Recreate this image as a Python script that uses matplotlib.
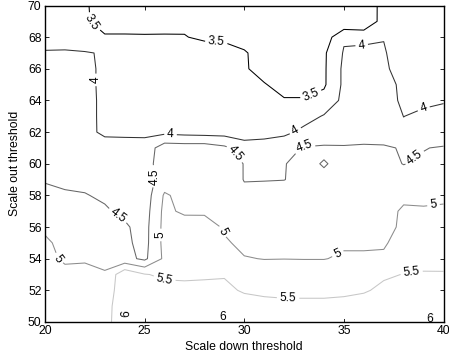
import numpy as np
import matplotlib
matplotlib.use("Agg")
import matplotlib.pyplot as plt

plt.rcParams["font.family"] = ["Liberation Sans", "DejaVu Sans"]

# Grid of the two thresholds
scale_down = np.arange(20, 41)          # x: 20 .. 40
scale_out = np.arange(50, 71)           # y: 50 .. 70

# Measured response, one column per scale-down threshold (values for scale-out 50 .. 70)
z_x20 = [5.36, 5.33, 5.30, 5.22, 5.12, 5.075, 4.92, 4.77, 4.60, 4.47, 4.43, 4.37, 4.31, 4.25, 4.19, 4.13, 4.07, 4.01, 3.95, 3.89, 3.83]
z_x21 = [5.25, 5.20, 5.15, 5.11, 4.94, 4.87, 4.76, 4.64, 4.52, 4.465, 4.41, 4.35, 4.30, 4.24, 4.18, 4.125, 4.07, 4.011, 3.955, 3.90, 3.84]
z_x22 = [5.25, 5.20, 5.15, 5.08, 4.97, 4.86, 4.75, 4.63, 4.52, 4.40, 4.28, 4.16, 4.05, 4.05, 4.05, 4.05, 4.05, 4.04, 3.60, 3.57, 3.58]
z_x23 = [5.26, 5.22, 5.15, 5.03, 4.915, 4.80, 4.68, 4.55, 4.44, 4.32, 4.20, 4.077, 3.967, 3.965, 3.965, 3.96, 3.96, 3.953, 3.55, 3.30, 3.20]
z_x24 = [5.97, 5.98, 5.88, 5.88, 4.65, 4.60, 4.56, 4.41, 4.32, 4.235, 4.15, 4.06, 3.97, 3.89, 3.82, 3.74, 3.67, 3.59, 3.515, 3.44, 3.37]
z_x25 = [6.30, 6.15, 5.85, 5.53, 4.40, 4.34, 4.33, 4.28, 4.22, 4.25, 4.30, 4.20, 3.89, 3.83, 3.76, 3.70, 3.64, 3.575, 3.513, 3.44, 3.37]
z_x26 = [6.20, 5.95, 5.68, 5.41, 5.10, 5.15, 5.15, 5.13, 5.06, 4.744, 4.76, 4.77, 3.88, 3.82, 3.76, 3.70, 3.63, 3.57, 3.512, 3.45, 3.40]
z_x27 = [6.15, 5.80, 5.575, 5.45, 5.40, 5.35, 5.30, 4.90, 4.85, 4.77, 4.73, 4.75, 3.83, 3.78, 3.72, 3.67, 3.62, 3.56, 3.51, 3.455, 3.40]
z_x28 = [6.10, 5.80, 5.56, 5.47, 5.38, 5.29, 5.20, 4.93, 4.90, 4.86, 4.81, 4.76, 3.80, 3.76, 3.73, 3.69, 3.66, 3.62, 3.46, 3.38, 3.30]
z_x29 = [6.10, 5.80, 5.62, 5.46, 5.20, 5.05, 4.95, 4.88, 4.81, 4.74, 4.67, 4.60, 3.80, 3.76, 3.72, 3.68, 3.64, 3.60, 3.45, 3.35, 3.25]
z_x30 = [6.107, 5.75, 5.44, 5.22, 5.02, 4.91, 4.80, 4.69, 4.585, 4.485, 4.489, 4.27, 3.71, 3.67, 3.63, 3.59, 3.56, 3.55, 3.30, 3.20, 3.10]
z_x31 = [6.15, 5.65, 5.40, 5.20, 4.99, 4.92, 4.84, 4.76, 4.68, 4.48, 4.29, 4.09, 3.93, 3.80, 3.67, 3.533, 3.30, 3.28, 3.20, 3.15, 3.10]
z_x32 = [6.12, 5.62, 5.38, 5.20, 4.995, 4.93, 4.87, 4.80, 4.74, 4.49, 4.49, 4.35, 3.883, 3.71, 3.541, 3.313, 3.25, 3.20, 3.15, 3.10, 3.05]
z_x33 = [6.10, 5.63, 5.37, 5.20, 4.99, 4.91, 4.84, 4.77, 4.70, 4.64, 4.575, 4.53, 4.12, 3.81, 3.548, 3.28, 3.20, 3.15, 3.10, 3.05, 3.00]
z_x34 = [6.10, 5.63, 5.37, 5.20, 4.99, 4.87, 4.79, 4.71, 4.63, 4.56, 4.48, 4.56, 4.21, 4.037, 3.671, 3.433, 3.43, 3.426, 3.207, 3.10, 3.00]
z_x35 = [6.10, 5.65, 5.40, 5.20, 5.04, 4.96, 4.89, 4.81, 4.74, 4.67, 4.58, 4.52, 4.39, 4.25, 4.12, 4.10, 4.10, 4.04, 3.94, 3.04, 2.90]
z_x36 = [6.10, 5.68, 5.46, 5.20, 5.04, 4.96, 4.89, 4.81, 4.74, 4.67, 4.60, 4.53, 4.40, 4.32, 4.25, 4.20, 4.15, 4.10, 3.90, 3.00, 2.95]
z_x37 = [6.10, 5.80, 5.58, 5.45, 5.10, 4.93, 4.80, 4.75, 4.70, 4.65, 4.60, 4.53, 4.37, 4.27, 4.20, 4.15, 4.10, 4.05, 3.98, 3.75, 3.77]
z_x38 = [6.05, 5.80, 5.65, 5.51, 5.38, 5.26, 5.12, 5.10, 4.85, 4.65, 4.49, 4.48, 4.10, 3.995, 3.914, 3.91, 3.75, 3.70, 3.65, 3.60, 3.55]
z_x39 = [6.04, 5.84, 5.68, 5.54, 5.35, 5.27, 5.17, 5.07, 4.85, 4.70, 4.557, 4.484, 4.30, 4.10, 3.90, 3.85, 3.80, 3.75, 3.70, 3.65, 3.60]
z_x40 = [6.03, 5.85, 5.68, 5.53, 5.38, 5.30, 5.20, 5.10, 4.88, 4.75, 4.62, 4.537, 4.20, 4.08, 3.98, 3.90, 3.85, 3.80, 3.75, 3.70, 3.65]

contour_levels = [3.5, 4.0, 4.5, 5.0, 5.5, 6.0]
level_grays = ["0.0", "0.2", "0.4", "0.55", "0.78", "1.0"]

x_ticks = [20, 25, 30, 35, 40]
y_ticks = [50, 52, 54, 56, 58, 60, 62, 64, 66, 68, 70]

# Where the contour labels sit
label_spots = [
    (22.4, 69.0), (28.6, 67.7), (33.4, 64.2),
    (22.55, 65.3), (26.3, 61.85), (32.6, 62.0), (35.9, 67.4), (39.0, 63.5),
    (23.7, 56.8), (25.45, 59.2), (29.6, 60.7), (33.0, 61.1), (38.6, 60.3),
    (20.6, 53.9), (25.85, 55.5), (28.9, 55.7), (34.7, 54.3), (39.5, 57.35),
    (26.0, 52.7), (32.2, 51.5), (38.4, 53.1),
    (24.1, 50.55), (28.9, 50.4), (39.3, 50.2),
]

columns = [z_x20, z_x21, z_x22, z_x23, z_x24, z_x25, z_x26, z_x27, z_x28, z_x29, z_x30,
           z_x31, z_x32, z_x33, z_x34, z_x35, z_x36, z_x37, z_x38, z_x39, z_x40]
Z = np.column_stack(columns)
X, Y = np.meshgrid(scale_down, scale_out)

fig = plt.figure(figsize=(4.49, 3.60), dpi=100)
ax = fig.add_axes([0.1002, 0.1056, 0.8876, 0.8791])

cs = ax.contour(X, Y, Z, levels=contour_levels, colors=level_grays, linewidths=0.75)
ax.clabel(cs, contour_levels, manual=label_spots, inline=True, inline_spacing=3,
          fmt="%g", fontsize=8.6, colors="k")

ax.set_xlim(20, 40)
ax.set_ylim(50, 70)
ax.set_xticks(x_ticks)
ax.set_yticks(y_ticks)
ax.tick_params(direction="in", top=True, right=True, length=3, width=0.6,
               labelsize=8.8, pad=2.5)
for side in ax.spines.values():
    side.set_linewidth(1.0)

ax.set_xlabel("Scale down threshold", fontsize=8.8)
ax.set_ylabel("Scale out threshold", fontsize=8.8)
ax.xaxis.set_label_coords(0.5, -0.06)
ax.yaxis.set_label_coords(-0.06, 0.5)

fig.savefig("out.png", dpi=100)
